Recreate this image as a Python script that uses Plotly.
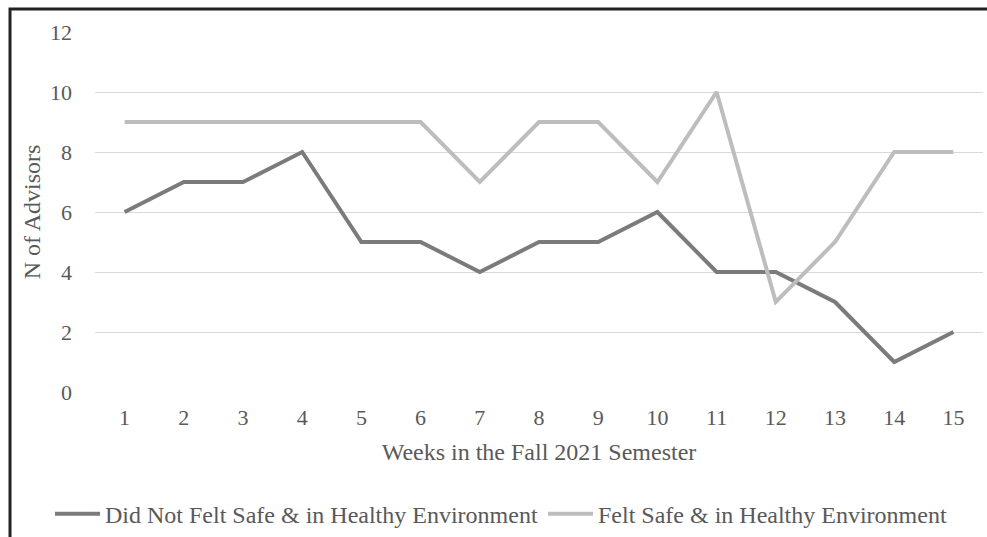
import plotly.graph_objects as go

weeks = [str(i) for i in range(1, 16)]
not_safe = [6, 7, 7, 8, 5, 5, 4, 5, 5, 6, 4, 4, 3, 1, 2]
safe = [9, 9, 9, 9, 9, 9, 7, 9, 9, 7, 10, 3, 5, 8, 8]
y_ticks = [0, 2, 4, 6, 8, 10, 12]

font = "Liberation Serif, Times New Roman, serif"
txt = "#595959"

fig = go.Figure()
fig.add_trace(go.Scatter(x=weeks, y=not_safe, mode="lines",
                         name="Did Not Felt Safe & in Healthy Environment",
                         line=dict(color="#7b7b7d", width=4), legend="legend"))
fig.add_trace(go.Scatter(x=weeks, y=safe, mode="lines",
                         name="Felt Safe & in Healthy Environment",
                         line=dict(color="#bdbdbf", width=4), legend="legend2"))

leg_common = dict(orientation="h", xanchor="left", y=-0.339, yanchor="middle",
                  font=dict(family=font, size=24, color=txt), itemwidth=45,
                  bgcolor="rgba(0,0,0,0)")

fig.update_layout(
    width=987, height=537,
    margin=dict(l=95, r=4, t=32, b=145, autoexpand=False),
    paper_bgcolor="white", plot_bgcolor="white",
    font=dict(family=font, color=txt, size=22),
    showlegend=True,
    legend=dict(x=-0.0507, **leg_common),
    legend2=dict(x=0.5045, **leg_common),
    xaxis=dict(type="category", range=[-0.5, 14.5], showgrid=False, zeroline=False,
               showline=False, ticks="", automargin=False,
               tickfont=dict(size=22, color=txt), ticklabelstandoff=10,
               title=dict(text="Weeks in the Fall 2021 Semester",
                          font=dict(size=24, color=txt), standoff=14)),
    yaxis=dict(range=[0, 12], tickvals=y_ticks, showgrid=True, gridcolor="#d9d9d9",
               gridwidth=1.3, zeroline=False, showline=False, ticks="", automargin=False,
               tickfont=dict(size=22, color=txt), ticklabelstandoff=22,
               title=dict(text="N of Advisors", font=dict(size=24, color=txt), standoff=2)),
)

# Outer frame (partially visible at top and left)
fig.add_shape(type="rect", xref="paper", yref="paper",
              x0=-0.0957, x1=1.2, y0=-0.6, y1=1.064,
              line=dict(color="#222222", width=3), layer="above")

fig.write_html("out.html", config={"displayModeBar": False},
               post_script="document.body.style.margin='0';document.body.style.overflow='hidden';")
